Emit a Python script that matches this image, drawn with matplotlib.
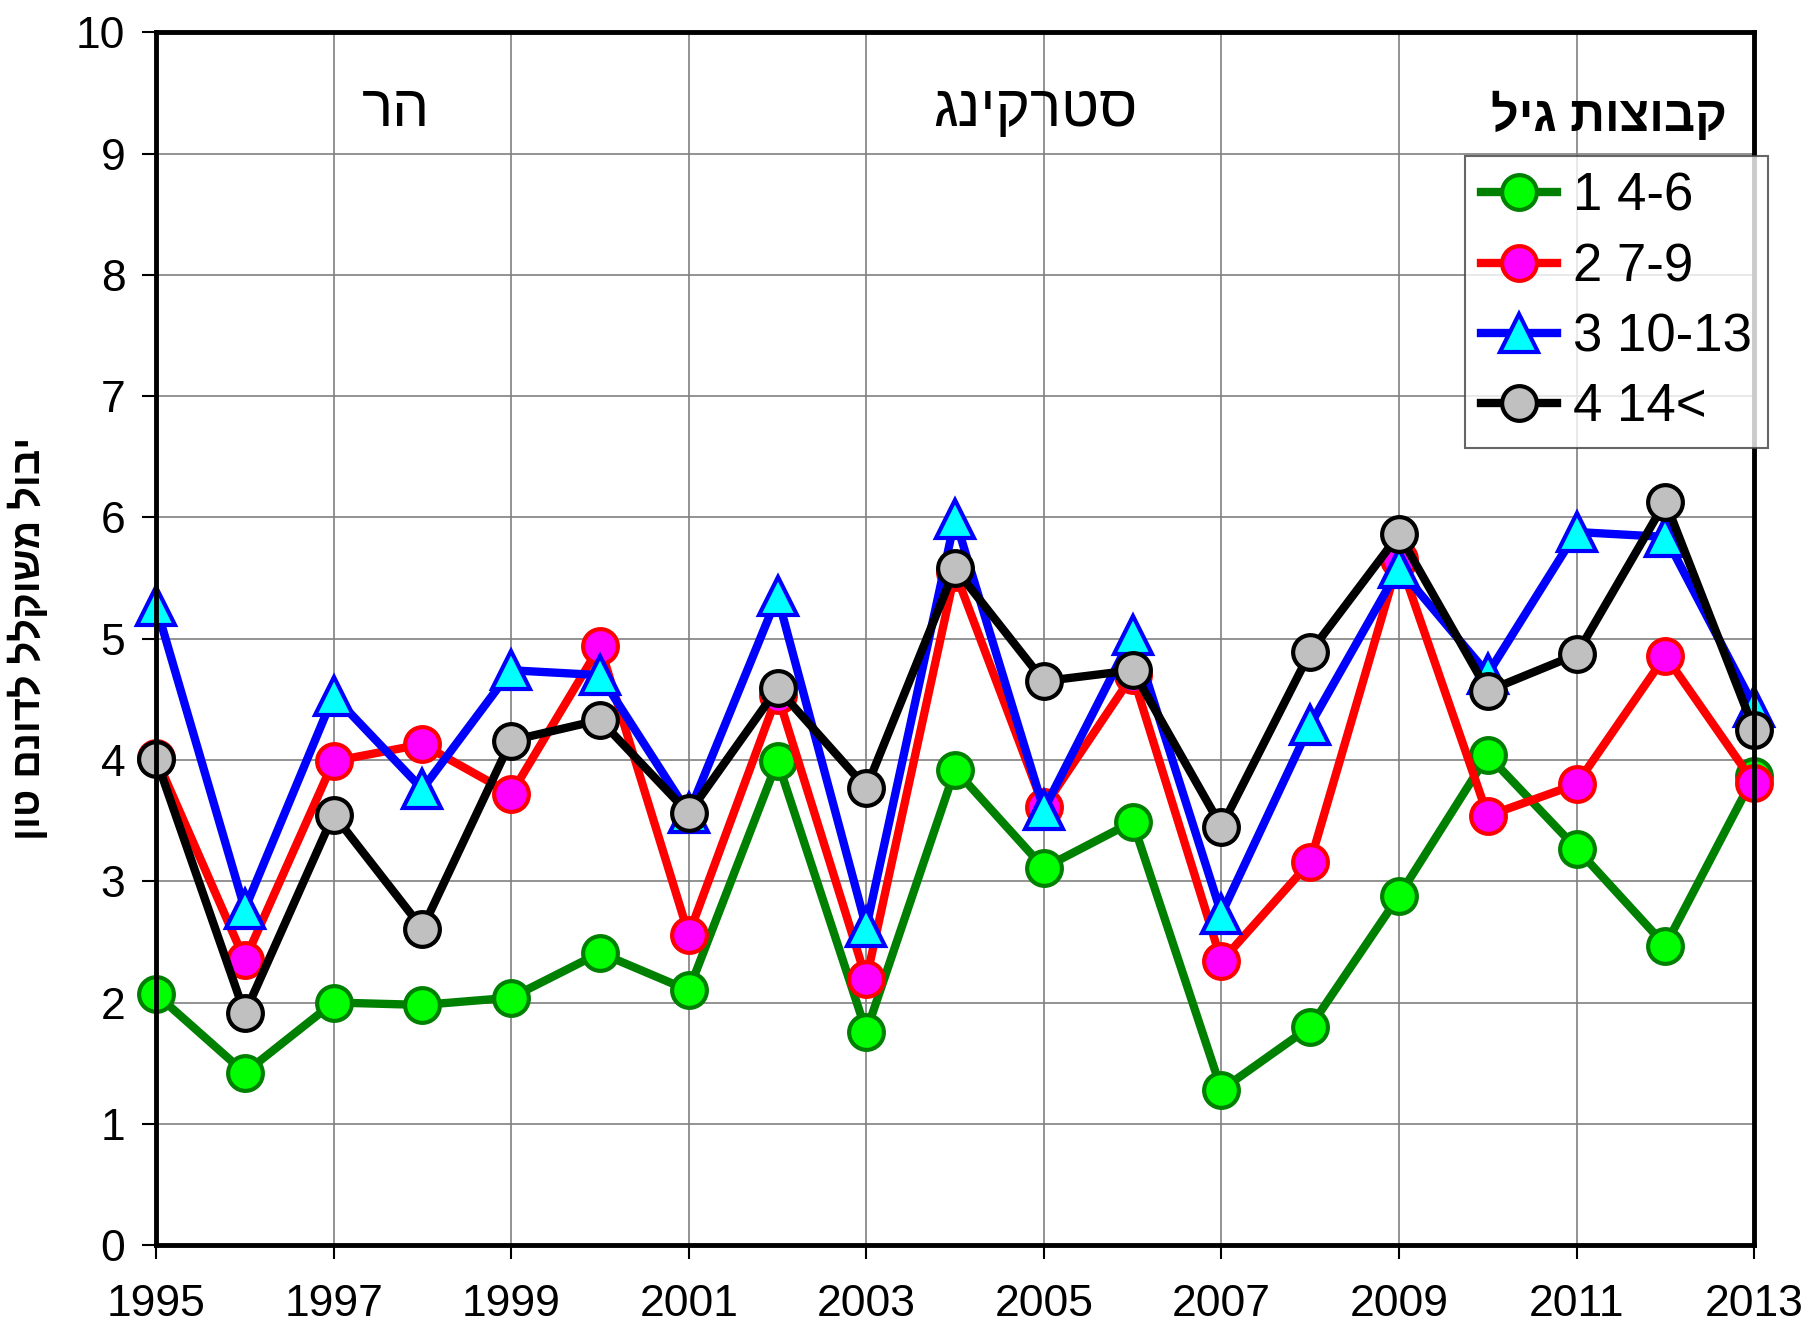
import matplotlib
matplotlib.use("Agg")
import matplotlib.pyplot as plt

FONT = ["Liberation Sans", "DejaVu Sans"]
plt.rcParams["font.family"] = FONT

years = list(range(1995, 2014))

# ערכים לפי קבוצות גיל
grp1 = [2.07, 1.42, 2.00, 1.98, 2.04, 2.41, 2.10, 3.99, 1.76, 3.92,
        3.11, 3.49, 1.28, 1.80, 2.88, 4.04, 3.27, 2.47, 3.87]
grp2 = [4.02, 2.35, 3.99, 4.13, 3.72, 4.94, 2.56, 4.54, 2.19, 5.55,
        3.61, 4.70, 2.34, 3.16, 5.66, 3.54, 3.80, 4.86, 3.81]
grp3 = [5.27, 2.77, 4.53, 3.76, 4.74, 4.70, 3.56, 5.35, 2.62, 5.99,
        3.59, 5.03, 2.73, 4.29, 5.58, 4.71, 5.88, 5.84, 4.44]
grp4 = [4.01, 1.91, 3.55, 2.61, 4.16, 4.33, 3.56, 4.59, 3.77, 5.58,
        4.65, 4.74, 3.45, 4.89, 5.86, 4.57, 4.87, 6.13, 4.25]

labels = ["1 4-6", "2 7-9", "3 10-13", "4 14<"]
xticks = list(range(1995, 2014, 2))
yticks = list(range(0, 11))


def heb(s):
    # matplotlib has no bidi support, so reverse Hebrew for visual order
    return s[::-1]


fig = plt.figure(figsize=(18.14, 13.35), dpi=100)
ax = fig.add_axes([0.086, 0.0674, 0.881, 0.9083])

styles = [
    (grp1, "#008000", "#00FF00", "o", 25),
    (grp2, "#FF0000", "#FF00FF", "o", 25),
    (grp3, "#0000FF", "#00FFFF", "^", 27),
    (grp4, "#000000", "#C0C0C0", "o", 25),
]
for (vals, col, face, mk, ms), lab in zip(styles, labels):
    ax.plot(years, vals, color=col, linewidth=6, marker=mk, markersize=ms,
            markerfacecolor=face, markeredgecolor=col, markeredgewidth=3,
            label=lab, clip_on=False)

ax.set_xlim(1995, 2013)
ax.set_ylim(0, 10)
ax.set_xticks(xticks)
ax.set_yticks(yticks)
ax.tick_params(axis="both", labelsize=32, length=10, width=1.5, direction="out")
ax.tick_params(axis="x", pad=18)
ax.tick_params(axis="y", pad=12)
ax.grid(True, color="#808080", linewidth=1.2)
ax.set_axisbelow(True)
for sp in ax.spines.values():
    sp.set_linewidth(3.5)

ax.set_ylabel(heb("יבול משוקלל לדונם טון"), fontsize=28.5, fontweight="bold",
              labelpad=20)

ax.text(0.15, 0.935, heb("הר"), transform=ax.transAxes, fontsize=42,
        ha="center", va="center")
ax.text(0.55, 0.935, heb("סטרקינג"), transform=ax.transAxes, fontsize=42,
        ha="center", va="center")
ax.text(0.983, 0.931, heb("קבוצות גיל"), transform=ax.transAxes, fontsize=35,
        fontweight="bold", ha="right", va="center")

leg = ax.legend(loc="upper left", bbox_to_anchor=(0.819, 0.898), fontsize=38,
                frameon=True, fancybox=False, edgecolor="#404040",
                handlelength=1.45, handletextpad=0.3, borderpad=0.3,
                labelspacing=0.38, borderaxespad=0)
leg.get_frame().set_linewidth(1.5)

fig.savefig("out.png", dpi=100)
